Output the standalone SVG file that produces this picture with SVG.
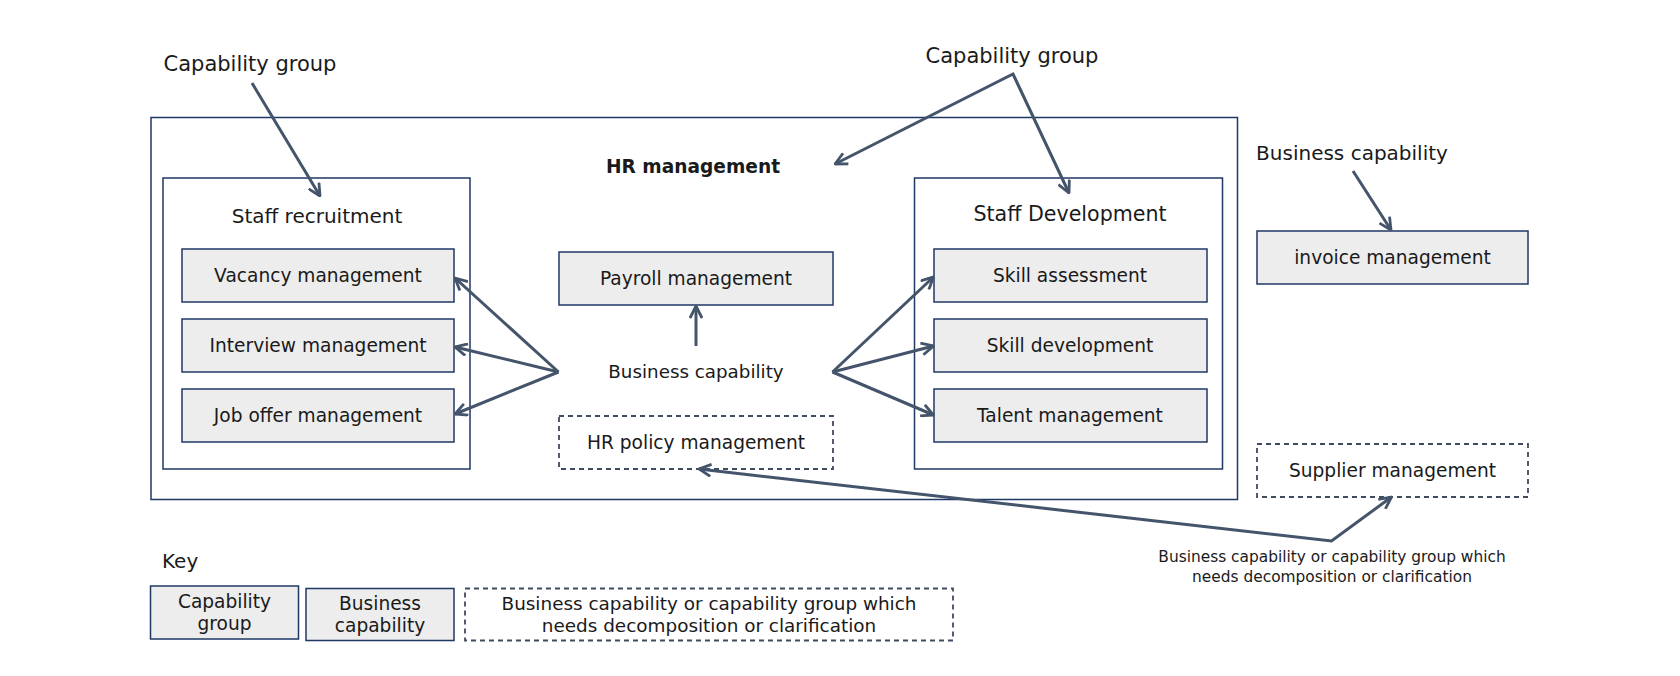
<svg xmlns="http://www.w3.org/2000/svg" width="1680" height="676" viewBox="0 0 1680 676">
<defs>
<style>
.t{font-family:"DejaVu Sans","Liberation Sans",sans-serif;fill:#1a1a1a;text-anchor:middle}
.b{font-size:18.6px}
.grp{fill:#ffffff;stroke:#1F3864;stroke-width:1.5}
.cap{fill:#EDEDED;stroke:#1F3864;stroke-width:1.5}
.dash{fill:#ffffff;stroke:#3F4B5E;stroke-width:1.8;stroke-dasharray:5 4}
.c{fill:none;stroke:#44546A;stroke-width:3;stroke-linejoin:miter}
</style>
<marker id="ah" viewBox="0 0 14 14" refX="13" refY="7" markerWidth="14" markerHeight="14" markerUnits="userSpaceOnUse" orient="auto-start-reverse">
<path d="M1,1 L13,7 L1,13" fill="none" stroke="#44546A" stroke-width="2.8"/>
</marker>
</defs>
<rect width="1680" height="676" fill="#ffffff"/>

<g id="hr-management">
<rect class="grp" x="151" y="117.5" width="1086.5" height="382"/>
<text class="t" x="693" y="173" font-size="18.6" font-weight="bold">HR management</text>
</g>

<g id="staff-recruitment">
<rect class="grp" x="163" y="178" width="307" height="291"/>
<text class="t" x="317" y="223" font-size="20">Staff recruitment</text>
</g>
<g id="vacancy-management">
<rect class="cap" x="182" y="249" width="272" height="53"/>
<text class="t b" x="318" y="282">Vacancy management</text>
</g>
<g id="interview-management">
<rect class="cap" x="182" y="319" width="272" height="53"/>
<text class="t b" x="318" y="352">Interview management</text>
</g>
<g id="job-offer-management">
<rect class="cap" x="182" y="389" width="272" height="53"/>
<text class="t b" x="318" y="422">Job offer management</text>
</g>

<g id="payroll-management">
<rect class="cap" x="559" y="252" width="274" height="53"/>
<text class="t b" x="696" y="285">Payroll management</text>
</g>
<g id="business-capability-label">
<text class="t" x="696" y="378" font-size="18.3">Business capability</text>
</g>
<g id="hr-policy-management">
<rect class="dash" x="559" y="416" width="274" height="53"/>
<text class="t b" x="696" y="449">HR policy management</text>
</g>

<g id="staff-development">
<rect class="grp" x="914.5" y="178" width="308" height="291"/>
<text class="t" x="1070" y="221" font-size="20.6">Staff Development</text>
</g>
<g id="skill-assessment">
<rect class="cap" x="934" y="249" width="273" height="53"/>
<text class="t b" x="1070" y="282">Skill assessment</text>
</g>
<g id="skill-development">
<rect class="cap" x="934" y="319" width="273" height="53"/>
<text class="t b" x="1070" y="352">Skill development</text>
</g>
<g id="talent-management">
<rect class="cap" x="934" y="389" width="273" height="53"/>
<text class="t b" x="1070" y="422">Talent management</text>
</g>

<g id="capability-group-left">
<text class="t" x="250" y="71" font-size="21">Capability group</text>
</g>
<g id="capability-group-right">
<text class="t" x="1012" y="63" font-size="21">Capability group</text>
</g>
<g id="business-capability-right">
<text class="t" x="1352" y="160" font-size="20">Business capability</text>
</g>
<g id="invoice-management">
<rect class="cap" x="1257" y="231" width="271" height="53"/>
<text class="t b" x="1392.5" y="264">invoice management</text>
</g>
<g id="supplier-management">
<rect class="dash" x="1257" y="444" width="271" height="53"/>
<text class="t b" x="1392.5" y="477">Supplier management</text>
</g>
<g id="clarification-label">
<text class="t" x="1332" y="562" font-size="15.4">Business capability or capability group which</text>
<text class="t" x="1332" y="582" font-size="15.4">needs decomposition or clarification</text>
</g>

<g id="key">
<text class="t" x="162" y="568" font-size="20" style="text-anchor:start">Key</text>
<rect class="cap" x="150.5" y="586" width="148" height="53"/>
<text class="t b" x="224.5" y="608">Capability</text>
<text class="t b" x="224.5" y="630">group</text>
<rect class="cap" x="306" y="588.5" width="148" height="52"/>
<text class="t b" x="380" y="610">Business</text>
<text class="t b" x="380" y="632">capability</text>
<rect class="dash" x="465" y="588.5" width="488" height="52"/>
<text class="t" x="709" y="610" font-size="18.4">Business capability or capability group which</text>
<text class="t" x="709" y="632" font-size="18.4">needs decomposition or clarification</text>
</g>

<g id="connectors">
<line class="c" x1="252" y1="83" x2="320" y2="196" marker-end="url(#ah)"/>
<polyline class="c" points="835,164 1013,74 1069,193" marker-start="url(#ah)" marker-end="url(#ah)"/>
<line class="c" x1="1353" y1="171" x2="1391" y2="230" marker-end="url(#ah)"/>
<line class="c" x1="696" y1="346" x2="696" y2="306" marker-end="url(#ah)"/>
<line class="c" x1="558.5" y1="372" x2="455" y2="278" marker-end="url(#ah)"/>
<line class="c" x1="558.5" y1="372" x2="455" y2="347" marker-end="url(#ah)"/>
<line class="c" x1="558.5" y1="372" x2="455" y2="414" marker-end="url(#ah)"/>
<line class="c" x1="832.5" y1="372" x2="933.5" y2="277" marker-end="url(#ah)"/>
<line class="c" x1="832.5" y1="372" x2="933.5" y2="346" marker-end="url(#ah)"/>
<line class="c" x1="832.5" y1="372" x2="933.5" y2="415" marker-end="url(#ah)"/>
<polyline class="c" points="699,469 1331.5,541 1391.5,497" marker-start="url(#ah)" marker-end="url(#ah)"/>
</g>
</svg>
